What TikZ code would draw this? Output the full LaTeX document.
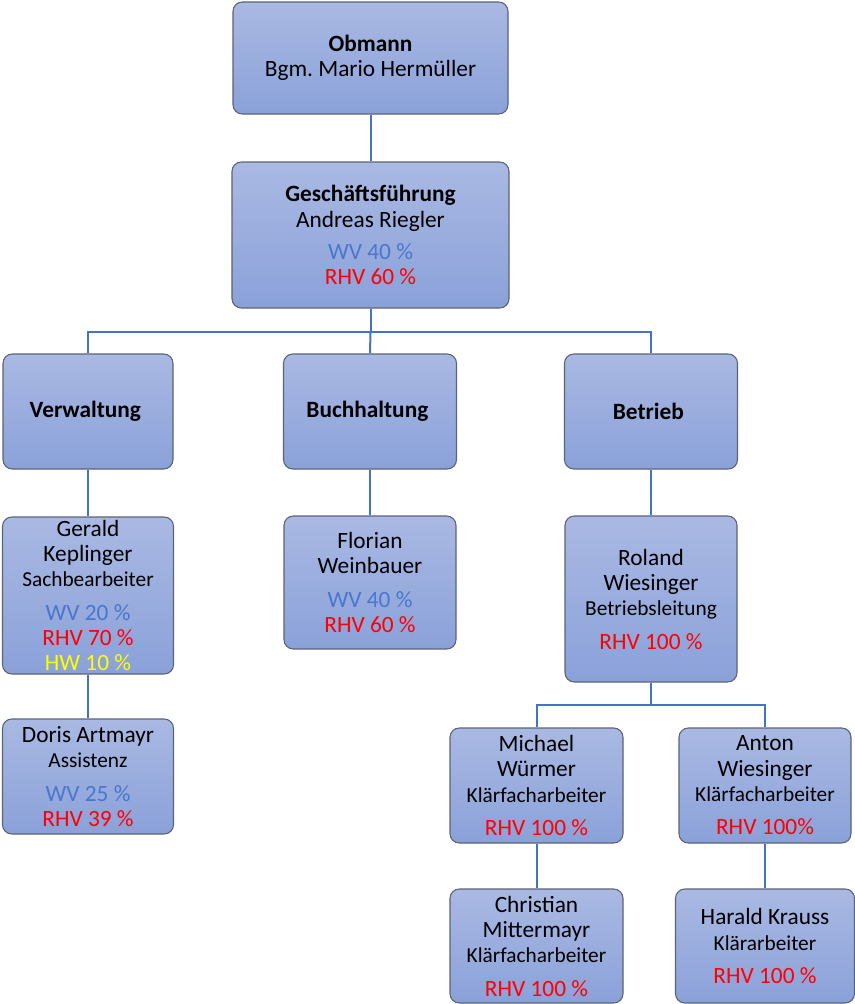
\documentclass[tikz,border=0pt]{standalone}
\usepackage{fontspec}
\setmainfont{Carlito}
\frenchspacing
\definecolor{boxtop}{HTML}{AAB9E3}
\definecolor{boxbot}{HTML}{8AA1D9}
\definecolor{boxline}{HTML}{5C6373}
\definecolor{linkblue}{HTML}{4472C4}
\definecolor{wvblue}{HTML}{4A76CC}
\definecolor{rhvred}{HTML}{FF0000}
\definecolor{hwyellow}{HTML}{FFFF00}
\newcommand{\wv}[1]{\textcolor{wvblue}{WV #1}}
\newcommand{\rhv}[1]{\textcolor{rhvred}{RHV #1}}
\newcommand{\hw}[1]{\textcolor{hwyellow}{HW #1}}
\newcommand{\job}[1]{{\fontsize{16}{18}\selectfont #1}}

\begin{document}
\begin{tikzpicture}[x=0.75pt,y=-0.75pt,
  orgbox/.style={draw=boxline, line width=0.8pt, rounded corners=7pt,
    top color=boxtop, bottom color=boxbot, align=center, inner sep=0pt,
    font=\fontsize{17.5}{19}\selectfont},
  link/.style={draw=linkblue, line width=1.5pt}]
  \useasboundingbox (0,0) rectangle (855,1004);

  \node [orgbox, minimum width=275*0.75pt, minimum height=112*0.75pt] (obm) at (370.5,58)
    { \textbf{Obmann}\\ Bgm. Mario Hermüller };
  \node [orgbox, minimum width=277*0.75pt, minimum height=146*0.75pt] (gf) at (370.5,235)
    { \textbf{Geschäftsführung}\\ Andreas Riegler\\[5pt] \wv{40 \%}\\ \rhv{60 \%} };

  \node [orgbox, minimum width=170*0.75pt, minimum height=115*0.75pt] (verw) at (88,411.5) { \textbf{Verwaltung} };
  \node [orgbox, minimum width=173*0.75pt, minimum height=115*0.75pt] (buch) at (370,411.5) { \textbf{Buchhaltung} };
  \node [orgbox, minimum width=173*0.75pt, minimum height=115*0.75pt] (betr) at (651,411.5) { \textbf{Betrieb} };

  \node [orgbox, minimum width=171*0.75pt, minimum height=157*0.75pt] (gk) at (88,595.5)
    { Gerald\\ Keplinger\\ \job{Sachbearbeiter}\\[6pt] \wv{20 \%}\\ \rhv{70 \%}\\ \hw{10 \%} };
  \node [orgbox, minimum width=171*0.75pt, minimum height=115*0.75pt] (da) at (88,776.5)
    { Doris Artmayr\\ \job{Assistenz}\\[6pt] \wv{25 \%}\\ \rhv{39 \%} };

  \node [orgbox, minimum width=172*0.75pt, minimum height=133*0.75pt] (fw) at (370,582.5)
    { Florian\\ Weinbauer\\[6pt] \wv{40 \%}\\ \rhv{60 \%} };

  \node [orgbox, minimum width=172*0.75pt, minimum height=166*0.75pt] (rw) at (651,599)
    { Roland\\ Wiesinger\\ \job{Betriebsleitung}\\[6pt] \rhv{100 \%} };

  \node [orgbox, minimum width=173*0.75pt, minimum height=115*0.75pt] (mw) at (536.5,785.5)
    { Michael\\ Würmer\\ \job{Klärfacharbeiter}\\[6pt] \rhv{100 \%} };
  \node [orgbox, minimum width=172*0.75pt, minimum height=115*0.75pt] (aw) at (765,785.5)
    { Anton\\ Wiesinger\\ \job{Klärfacharbeiter}\\[6pt] \rhv{100\%} };
  \node [orgbox, minimum width=173*0.75pt, minimum height=114*0.75pt] (cm) at (536.5,946)
    { Christian\\ Mittermayr\\ \job{Klärfacharbeiter}\\[6pt] \rhv{100 \%} };
  \node [orgbox, minimum width=179*0.75pt, minimum height=114*0.75pt] (hk) at (765,946)
    { Harald Krauss\\ \job{Klärarbeiter}\\[6pt] \rhv{100 \%} };

  \coordinate (gfbus) at (370.5,332);
  \coordinate (rwbus) at (651,705);

  \draw [link] (obm) -- (gf);
  \draw [link] (gf.south) -- (gfbus);
  \draw [link] (verw.north) |- (gfbus) -| (betr.north);
  \draw [link] (buch.north) -- (gfbus);
  \draw [link] (verw) -- (gk);
  \draw [link] (gk) -- (da);
  \draw [link] (buch) -- (fw);
  \draw [link] (betr) -- (rw);
  \draw [link] (rw.south) -- (rwbus);
  \draw [link] (mw.north) |- (rwbus) -| (aw.north);
  \draw [link] (mw) -- (cm);
  \draw [link] (aw) -- (hk);
\end{tikzpicture}
\end{document}
